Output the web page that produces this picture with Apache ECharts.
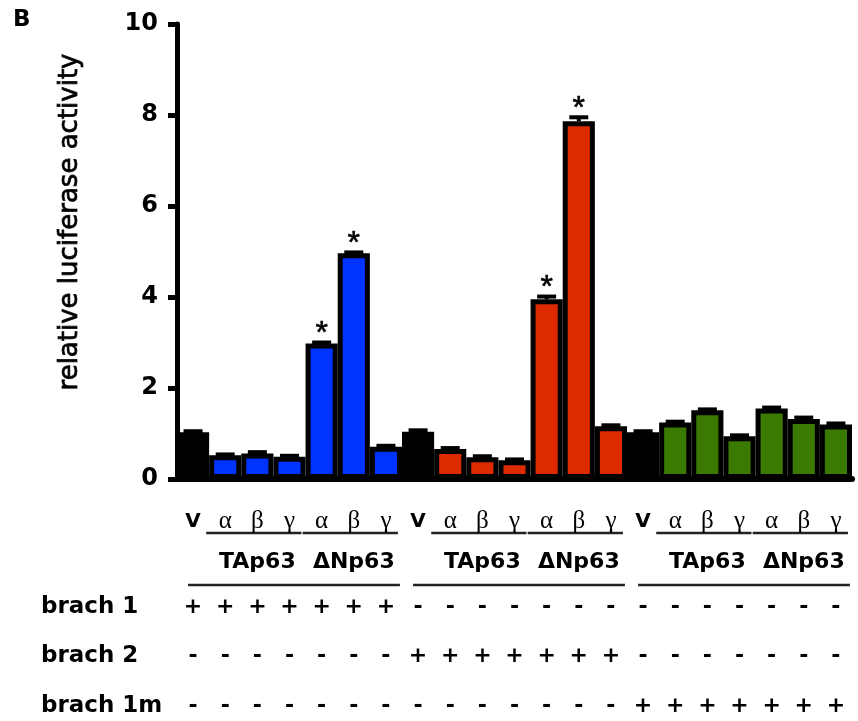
<!DOCTYPE html>
<html><head><meta charset="utf-8">
<script src="https://cdn.jsdelivr.net/npm/echarts/dist/echarts.min.js"></script>
<style>html,body{margin:0;padding:0;background:#fff}#c{width:858px;height:721px}</style>
</head><body><div id="c"></div>
<script>
// ---- data ----
const categories = ['V','α','β','γ','α','β','γ','V','α','β','γ','α','β','γ','V','α','β','γ','α','β','γ'];
const valuesBrach1 = [1.03, 0.52, 0.56, 0.49, 2.98, 4.96, 0.71];
const valuesBrach2 = [1.04, 0.66, 0.48, 0.41, 3.95, 7.86, 1.16];
const valuesBrach1m = [1.03, 1.24, 1.51, 0.94, 1.55, 1.32, 1.20];
const errorsBrach1 = [0.02, 0.02, 0.03, 0.02, 0.02, 0.02, 0.02];
const errorsBrach2 = [0.03, 0.02, 0.02, 0.02, 0.06, 0.09, 0.02];
const errorsBrach1m = [0.02, 0.02, 0.02, 0.02, 0.02, 0.03, 0.02];
const stars = ['', '', '', '', '*', '*', '', '', '', '', '', '*', '*', '', '', '', '', '', '', '', ''];
const isoforms = ['TAp63', 'ΔNp63'];
const rowLabels = ['brach 1', 'brach 2', 'brach 1m'];
const rowBrach1 = ['+','+','+','+','+','+','+','-','-','-','-','-','-','-','-','-','-','-','-','-','-'];
const rowBrach2 = ['-','-','-','-','-','-','-','+','+','+','+','+','+','+','-','-','-','-','-','-','-'];
const rowBrach1m = ['-','-','-','-','-','-','-','-','-','-','-','-','-','-','+','+','+','+','+','+','+'];
const yTicks = [0, 2, 4, 6, 8, 10];
const groupColors = ['#0033ff', '#dd2a00', '#3a7a00'];

const values = valuesBrach1.concat(valuesBrach2, valuesBrach1m);
const errors = errorsBrach1.concat(errorsBrach2, errorsBrach1m);
const rows = [rowBrach1, rowBrach2, rowBrach1m];
const FONT = "'Liberation Sans', Arial, Helvetica, sans-serif";
const WIDE = "'DejaVu Sans', 'Liberation Sans', sans-serif";
const GREEK = "'Liberation Serif', 'DejaVu Serif', serif";

const chart = echarts.init(document.getElementById('c'), null, {renderer: 'canvas'});

function colorOf(i) { return (i % 7 === 0) ? '#000000' : groupColors[Math.floor(i / 7)]; }

const option = {
  animation: false,
  backgroundColor: '#ffffff',
  grid: {left: 177, right: 6, top: 24, bottom: 242, containLabel: false},
  xAxis: {
    type: 'category', data: categories,
    axisLine: {lineStyle: {color: '#000', width: 6}},
    axisTick: {show: false},
    axisLabel: {
      interval: 0, margin: 30,
      formatter: v => v === 'V' ? '{b|V}' : '{g|' + v + '}',
      rich: {
        b: {fontFamily: WIDE, fontWeight: 'bold', fontSize: 20, color: '#000', padding: [3, 0, 0, 0]},
        g: {fontFamily: GREEK, fontSize: 25, color: '#000'}
      }
    }
  },
  yAxis: {
    type: 'value', min: yTicks[0], max: yTicks[yTicks.length - 1], interval: 2,
    axisLine: {show: true, lineStyle: {color: '#000', width: 5}},
    axisTick: {show: true, length: 9, lineStyle: {color: '#000', width: 5}},
    splitLine: {show: false},
    axisLabel: {fontFamily: WIDE, fontSize: 24, fontWeight: 'bold', color: '#000', margin: 19}
  },
  series: [
    {
      type: 'bar',
      barCategoryGap: '0%',
      data: values.map((v, i) => ({value: v, itemStyle: {color: colorOf(i)}})),
      itemStyle: {borderColor: '#000', borderWidth: 5},
      z: 2
    },
    {
      type: 'custom',
      data: values.map((v, i) => [i, v, errors[i]]),
      z: 3,
      renderItem: function (params, api) {
        const i = api.value(0), v = api.value(1), e = api.value(2);
        const p0 = api.coord([i, v]);
        const p1 = api.coord([i, v + e]);
        const hw = 9.5;
        const children = [
          {type: 'line', shape: {x1: p0[0], y1: p0[1], x2: p1[0], y2: p1[1]}, style: {stroke: '#000', lineWidth: 4}},
          {type: 'line', shape: {x1: p1[0] - hw, y1: p1[1], x2: p1[0] + hw, y2: p1[1]}, style: {stroke: '#000', lineWidth: 4}}
        ];
        if (stars[params.dataIndex]) {
          children.push({type: 'text', x: p1[0], y: p1[1] - 8,
            style: {text: stars[params.dataIndex], fontFamily: FONT, fontSize: 32, fill: '#000', stroke: '#000', lineWidth: 0.6, align: 'center', verticalAlign: 'middle'}});
        }
        return {type: 'group', children: children};
      }
    }
  ]
};
chart.setOption(option);

function cx(i) { return chart.convertToPixel({xAxisIndex: 0}, i); }
const graphics = [];
graphics.push({type: 'text', x: 13, y: 9, style: {text: 'B', fontFamily: WIDE, fontWeight: 'bold', fontSize: 23, fill: '#000', align: 'left', verticalAlign: 'top'}});
graphics.push({type: 'text', x: 70, y: 222, rotation: Math.PI / 2,
  style: {text: 'relative luciferase activity', fontFamily: WIDE, fontSize: 26, fill: '#000', stroke: '#000', lineWidth: 0.7, align: 'center', verticalAlign: 'middle'}});
for (let g = 0; g < 3; g++) {
  const base = g * 7;
  for (let k = 0; k < 2; k++) {
    const a = base + 1 + k * 3, c = base + 3 + k * 3;
    graphics.push({type: 'line', shape: {x1: cx(a) - 19, y1: 533, x2: cx(c) + 12, y2: 533}, style: {stroke: '#222', lineWidth: 2.5}});
    graphics.push({type: 'text', x: (cx(a) + cx(c)) / 2, y: 562,
      style: {text: isoforms[k], fontFamily: WIDE, fontWeight: 'bold', fontSize: 22, fill: '#000', align: 'center', verticalAlign: 'middle'}});
  }
  graphics.push({type: 'line', shape: {x1: cx(base) - 5, y1: 585, x2: cx(base + 6) + 14, y2: 585}, style: {stroke: '#222', lineWidth: 2.5}});
}
const rowY = [607, 656, 706];
for (let r = 0; r < 3; r++) {
  graphics.push({type: 'text', x: 41, y: rowY[r],
    style: {text: rowLabels[r], fontFamily: WIDE, fontWeight: 'bold', fontSize: 23, fill: '#000', align: 'left', verticalAlign: 'middle'}});
  for (let i = 0; i < categories.length; i++) {
    graphics.push({type: 'text', x: cx(i), y: rowY[r],
      style: {text: rows[r][i], fontFamily: WIDE, fontWeight: 'bold', fontSize: 22, fill: '#000', align: 'center', verticalAlign: 'middle'}});
  }
}
chart.setOption({graphic: graphics});
</script>
</body></html>
